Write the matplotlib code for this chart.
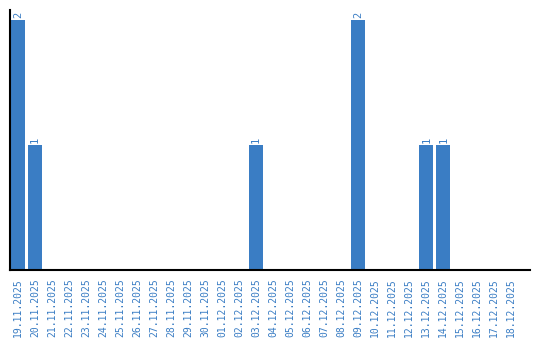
import matplotlib
matplotlib.use("Agg")
import matplotlib.pyplot as plt

# daily counts, 19.11.2025 - 18.12.2025
dates = [
    "19.11.2025", "20.11.2025", "21.11.2025", "22.11.2025", "23.11.2025",
    "24.11.2025", "25.11.2025", "26.11.2025", "27.11.2025", "28.11.2025",
    "29.11.2025", "30.11.2025", "01.12.2025", "02.12.2025", "03.12.2025",
    "04.12.2025", "05.12.2025", "06.12.2025", "07.12.2025", "08.12.2025",
    "09.12.2025", "10.12.2025", "11.12.2025", "12.12.2025", "13.12.2025",
    "14.12.2025", "15.12.2025", "16.12.2025", "17.12.2025", "18.12.2025",
]
counts = [2, 1, 0, 0, 0, 0, 0, 0, 0, 0,
          0, 0, 0, 0, 1, 0, 0, 0, 0, 0,
          2, 0, 0, 0, 1, 1, 0, 0, 0, 0]

BLUE = "#3a7dc4"

fig = plt.figure(figsize=(5.4, 3.4), dpi=100)
ax = fig.add_axes([10 / 540, 70 / 340, 520 / 540, 260 / 340])

x = list(range(len(dates)))
ax.bar(x, counts, width=0.82, color=BLUE)

for i, v in enumerate(counts):
    if v > 0:
        ax.text(i, v + 0.02, str(v), rotation=90, ha="center", va="bottom",
                color=BLUE, fontsize=7.5, family="DejaVu Sans Mono")

ax.set_xlim(-0.47, 30.1)
ax.set_ylim(0, 2.08)
ax.set_xticks(x)
ax.set_xticklabels(dates, rotation=90, color=BLUE, fontsize=7,
                   family="DejaVu Sans Mono")
ax.tick_params(axis="x", length=0, pad=6)
ax.set_yticks([])
ax.spines["top"].set_visible(False)
ax.spines["right"].set_visible(False)
ax.spines["left"].set_linewidth(1.5)
ax.spines["bottom"].set_linewidth(1.5)

fig.savefig("out.png", dpi=100)
